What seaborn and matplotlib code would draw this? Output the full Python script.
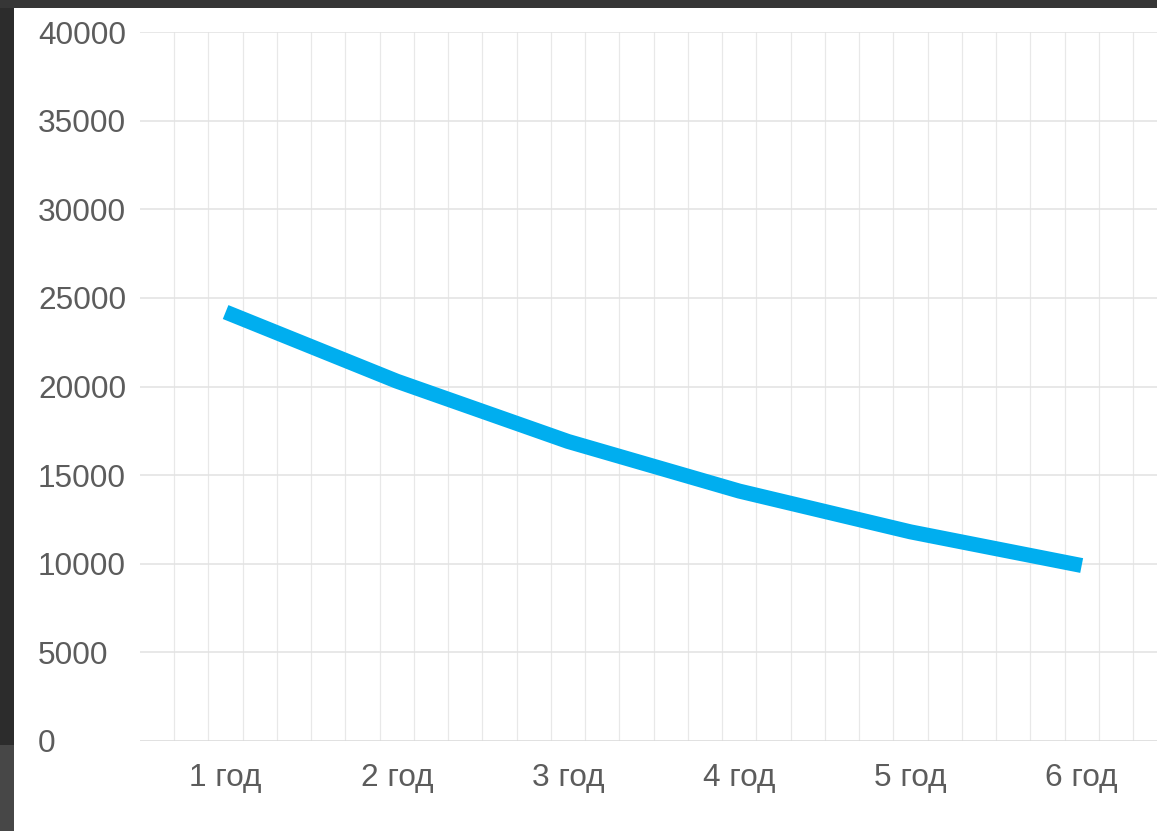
import matplotlib
matplotlib.use("Agg")
import matplotlib.pyplot as plt
from matplotlib.patches import Rectangle
import numpy as np
import pandas as pd
import seaborn as sns

# Residual value by year of ownership
years = ["1 год", "2 год", "3 год", "4 год", "5 год", "6 год"]
values = [24200, 20300, 16900, 14100, 11800, 9900]
y_ticks = [0, 5000, 10000, 15000, 20000, 25000, 30000, 35000, 40000]

sns.set_theme(style="white")
plt.rcParams["font.family"] = ["Liberation Sans", "DejaVu Sans"]

W, H = 1157, 831
fig = plt.figure(figsize=(W / 100, H / 100), dpi=100, facecolor="#363636")

# slide backdrop: darker strip on the left, lighter block at lower left, white card
fig.patches.append(Rectangle((0, 0), 14 / W, 1 - 745 / H, transform=fig.transFigure,
                             facecolor="#474747", edgecolor="none", zorder=-2))
fig.patches.append(Rectangle((0, 1 - 745 / H), 14 / W, (745 - 8) / H, transform=fig.transFigure,
                             facecolor="#2c2c2c", edgecolor="none", zorder=-2))
fig.patches.append(Rectangle((14 / W, 0), 1 - 14 / W, 1 - 8 / H, transform=fig.transFigure,
                             facecolor="white", edgecolor="none", zorder=-2))

ax = fig.add_axes([140 / W, 1 - 741 / H, 1 - 140 / W, (741 - 32) / H])
ax.set_facecolor("none")

df = pd.DataFrame({"year": years, "value": values})
sns.lineplot(data=df, x="year", y="value", ax=ax, color="#00AEEF",
             linewidth=10.8, solid_capstyle="butt", solid_joinstyle="miter",
             sort=False, zorder=3)

ax.set_xlim(-0.5, 5.44)
ax.set_ylim(0, 40000)
ax.set_yticks(y_ticks)
ax.set_yticklabels([str(v) for v in y_ticks], ha="left")
ax.set_xticks(range(len(years)))
ax.set_xticklabels(years)

# thin vertical grid between and around the categories
for gx in np.arange(-0.3, 5.45, 0.2):
    ax.axvline(gx, color="#e8e8e8", linewidth=0.9, zorder=1)
for gy in y_ticks:
    ax.axhline(gy, color="#e2e2e2" if gy else "#d9d9d9", linewidth=1.1, zorder=1)

for s in ax.spines.values():
    s.set_visible(False)
ax.tick_params(axis="y", length=0, pad=73.4, labelsize=22.8, labelcolor="#5c5c5c")
ax.tick_params(axis="x", length=0, pad=16, labelsize=22.8, labelcolor="#5c5c5c")
ax.set_xlabel("")
ax.set_ylabel("")
ax.grid(False)

fig.savefig("out.png", dpi=100, facecolor=fig.get_facecolor())
